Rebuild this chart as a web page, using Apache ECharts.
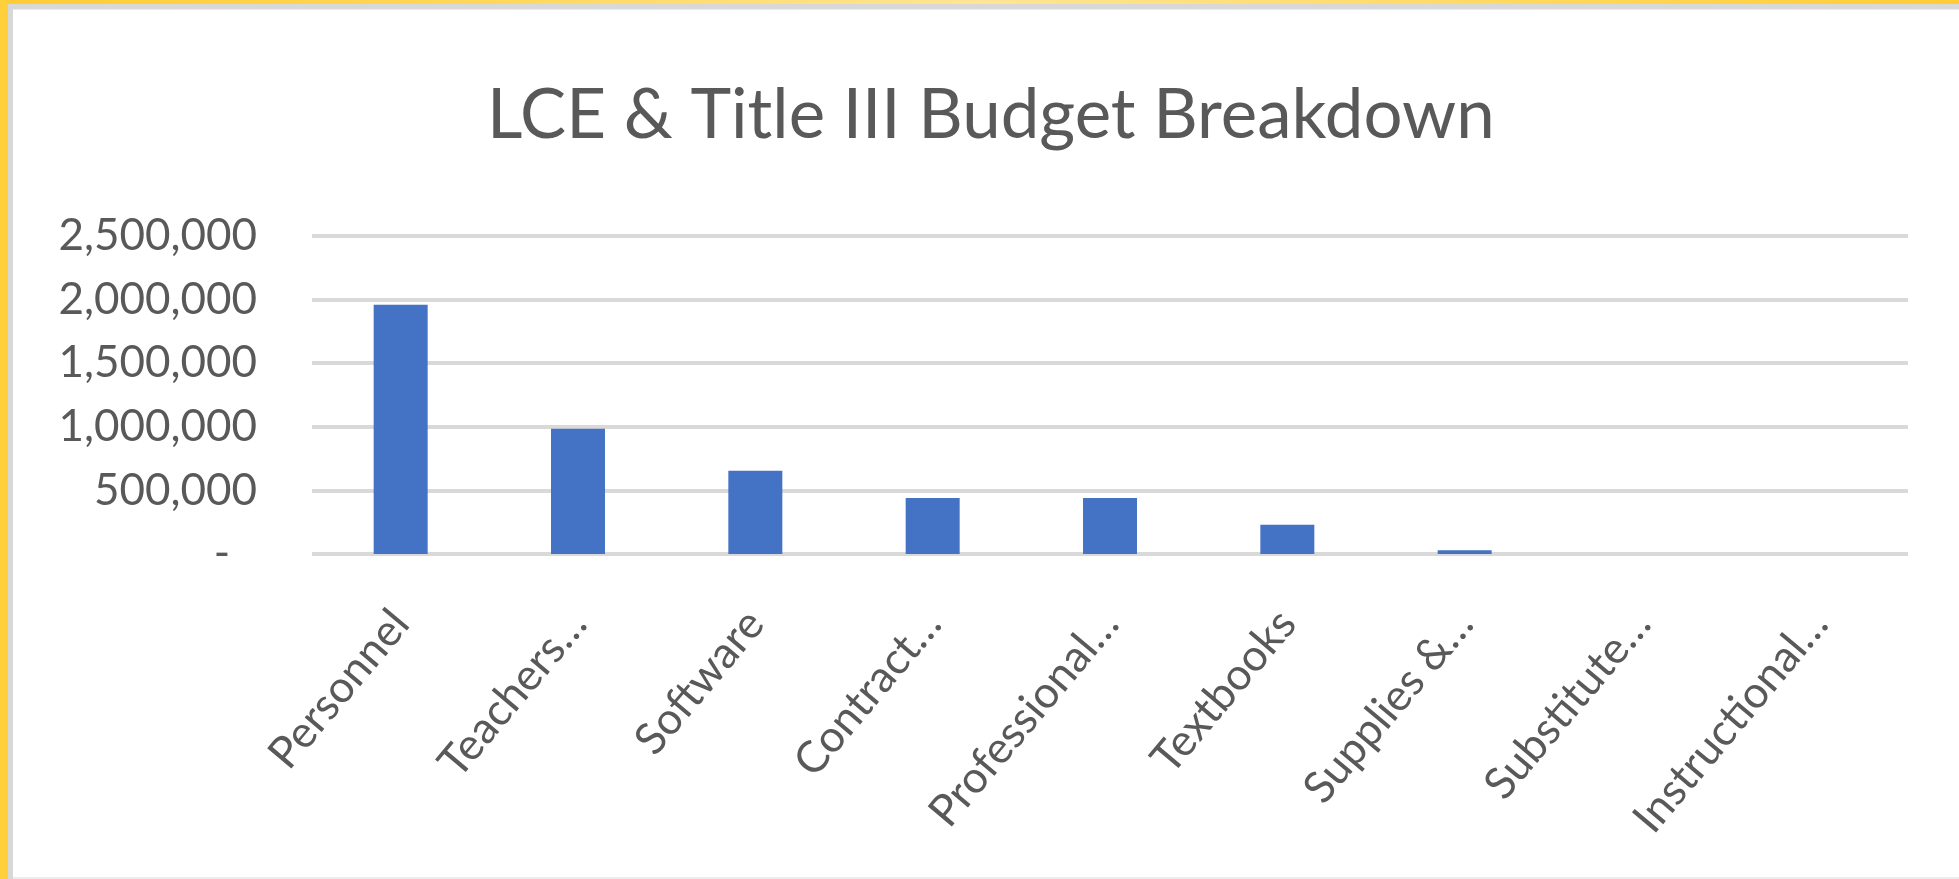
<!DOCTYPE html>
<html>
<head>
<meta charset="utf-8">
<title>LCE &amp; Title III Budget Breakdown</title>
<script src="https://cdn.jsdelivr.net/npm/echarts@6/dist/echarts.min.js"></script>
<style>
  html, body { margin: 0; padding: 0; width: 1959px; height: 879px; overflow: hidden; background: #ffffff; }
  #chart { position: absolute; left: 0; top: 0; width: 1959px; height: 879px; }
  .frame { position: absolute; pointer-events: none; }
  #edgeTop { left: 0; top: 0; width: 1959px; height: 4px;
    background: linear-gradient(90deg, #ffcc33 0%, #ffd75a 25%, #ffe594 50%, #ffd75a 80%, #ffcc33 100%); }
  #edgeLeft { left: 0; top: 0; width: 8px; height: 879px; background: #ffcf3c; }
  #innerTop { left: 8px; top: 4px; width: 1951px; height: 5px; background: #d8d8d8; }
  #innerTop2 { left: 8px; top: 9px; width: 1951px; height: 1px; background: #ececec; }
  #innerLeft { left: 8px; top: 4px; width: 5px; height: 875px; background: #d8d8d8; }
  #innerBottom { left: 13px; top: 877px; width: 1946px; height: 2px; background: #ececec; }
</style>
</head>
<body>
<div id="chart"></div>
<div class="frame" id="edgeTop"></div>
<div class="frame" id="edgeLeft"></div>
<div class="frame" id="innerTop"></div>
<div class="frame" id="innerTop2"></div>
<div class="frame" id="innerLeft"></div>
<div class="frame" id="innerBottom"></div>
<script>
// Budget categories (labels as shown on the axis) and amounts in dollars
const categories = [
  'Personnel', 'Teachers\u2026', 'Software', 'Contract\u2026', 'Professional\u2026',
  'Textbooks', 'Supplies &\u2026', 'Substitute\u2026', 'Instructional\u2026'
];
const amounts = [1960000, 985000, 655000, 440000, 440000, 230000, 30000, 0, 0];

// Value axis range and tick step
const yMin = 0;
const yMax = 2500000;
const yStep = 500000;

const chartTitle = 'LCE & Title III Budget Breakdown';

const textColor = '#595959';
const fontFamily = 'Lato, "Open Sans", sans-serif';

const chart = echarts.init(document.getElementById('chart'), null, { renderer: 'canvas' });

chart.setOption({
  backgroundColor: 'transparent',
  animation: false,
  title: {
    text: chartTitle,
    left: 482,
    top: 76,
    textStyle: {
      color: textColor,
      fontFamily: fontFamily,
      fontWeight: 'normal',
      fontSize: 69
    }
  },
  grid: {
    left: 312,
    right: 51,
    top: 236,
    bottom: 325,
    containLabel: false
  },
  xAxis: {
    type: 'category',
    data: categories,
    axisLine: { show: false },
    axisTick: { show: false },
    axisLabel: {
      rotate: 50,
      interval: 0,
      margin: 62,
      color: textColor,
      fontFamily: fontFamily,
      fontSize: 44
    }
  },
  yAxis: {
    type: 'value',
    min: yMin,
    max: yMax,
    interval: yStep,
    axisLine: { show: false },
    axisTick: { show: false },
    splitLine: { lineStyle: { color: '#d9d9d9', width: 4 } },
    axisLabel: {
      margin: 55,
      color: textColor,
      fontFamily: fontFamily,
      fontSize: 44,
      formatter: function (v) {
        if (v === 0) return '{dash|-}';
        return v.toLocaleString('en-US');
      },
      rich: {
        dash: {
          color: textColor,
          fontFamily: fontFamily,
          fontSize: 44,
          padding: [0, 27, 0, 0]
        }
      }
    }
  },
  series: [{
    type: 'bar',
    data: amounts,
    barWidth: 54,
    itemStyle: {
      color: '#4472c4'
    }
  }]
});
</script>
</body>
</html>
